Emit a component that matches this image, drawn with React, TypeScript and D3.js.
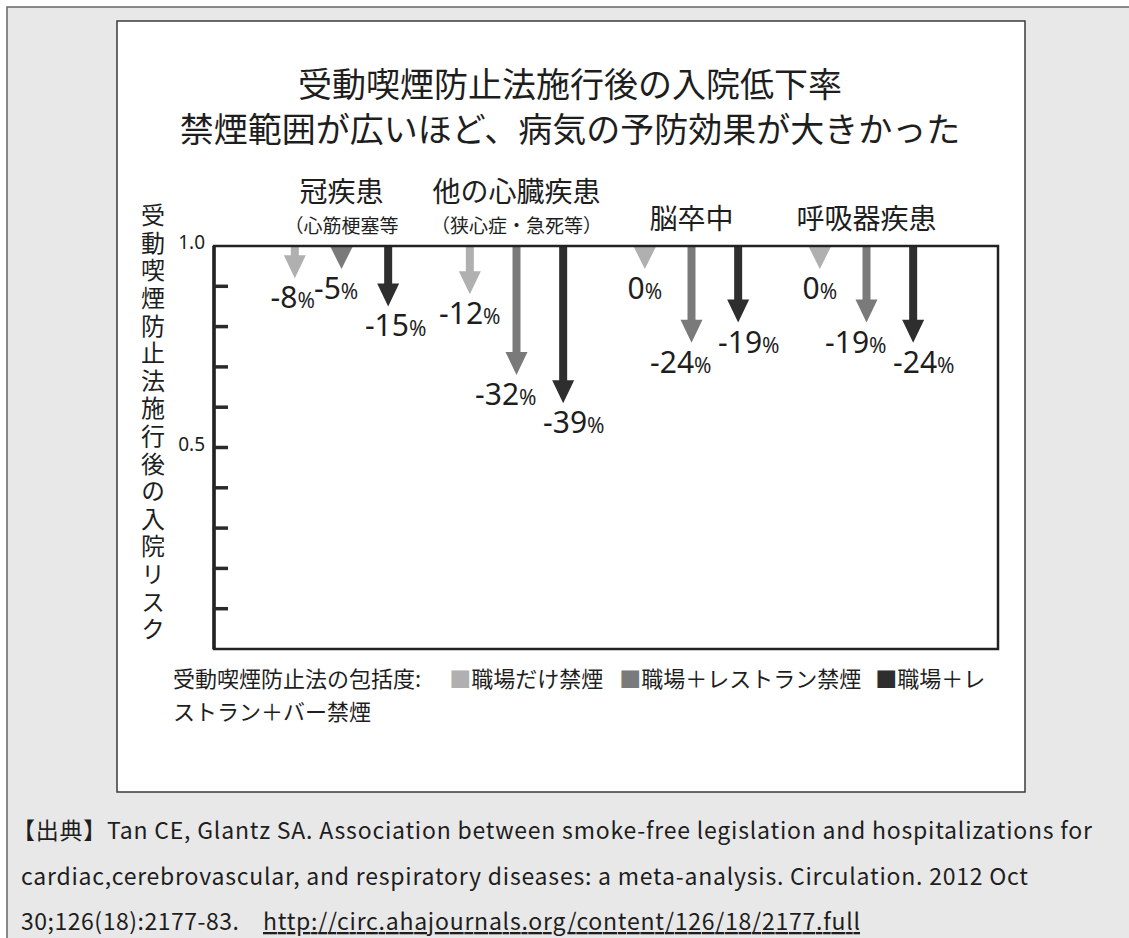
import React from 'react';
import * as d3 from 'd3';

// Disease groups and the effect of each level of smoke-free law (percent change)
const categories = ['冠疾患', '他の心臓疾患', '脳卒中', '呼吸器疾患'];
const subtitles = ['（心筋梗塞等', '（狭心症・急死等）', '', ''];
const seriesNames = ['職場だけ禁煙', '職場＋レストラン禁煙', '職場＋レストラン＋バー禁煙'];
const workplaceOnly = [-8, -12, 0, 0];
const workplaceRestaurant = [-5, -32, -24, -19];
const workplaceRestaurantBar = [-15, -39, -19, -24];
const tickValues = [0.1, 0.2, 0.3, 0.4, 0.5, 0.6, 0.7, 0.8, 0.9];
const labeledTicks = [1.0, 0.5];

const titleLines = ['受動喫煙防止法施行後の入院低下率', '禁煙範囲が広いほど、病気の予防効果が大きかった'];
const yAxisTitle = '受動喫煙防止法施行後の入院リスク';
const legendTitle = '受動喫煙防止法の包括度:';
const sourceLines = [
  '【出典】Tan CE, Glantz SA. Association between smoke-free legislation and hospitalizations for',
  'cardiac,cerebrovascular, and respiratory diseases: a meta-analysis. Circulation. 2012 Oct',
  '30;126(18):2177-83.',
];
const sourceUrl = 'http://circ.ahajournals.org/content/126/18/2177.full';

const colors = ['#b0b0b0', '#7a7a7a', '#2e2e2e'];
const JP = '"Noto Sans CJK JP", "Noto Sans", sans-serif';
const NUM = '"Noto Sans", "Open Sans", sans-serif';
const INK = '#1e1e1e';

const NUM_SIZE = 30;
const PCT_SIZE = 21;

// rough text metrics for the value labels, used to keep neighbours apart
const labelWidth = (v: number) =>
  String(Math.abs(v)).length * NUM_SIZE * 0.57 + (v < 0 ? NUM_SIZE * 0.32 : 0) + PCT_SIZE * 0.82;
const LABEL_ASC = NUM_SIZE * 1.07;
const LABEL_DESC = NUM_SIZE * 0.29;

export default function App() {
  const W = 1129;
  const H = 938;
  const plot = { left: 214, top: 246, right: 998, bottom: 649 };

  const y = d3.scaleLinear().domain([0, 1]).range([plot.bottom, plot.top]);
  const x0 = d3
    .scaleBand<string>()
    .domain(categories)
    .range([254, 954])
    .paddingInner(0.2)
    .paddingOuter(0.1);
  const x1 = d3
    .scalePoint<string>()
    .domain(seriesNames)
    .range([0, x0.bandwidth()])
    .padding(0.5);

  const series = [workplaceOnly, workplaceRestaurant, workplaceRestaurantBar];

  const headLen = 23;
  const headHalf = 11;
  const shaftHalf = 4;

  const arrowTip = (v: number) => Math.max(y(1 + v / 100), y(1) + headLen);

  const arrowPath = (cx: number, v: number) => {
    const top = y(1) + 1;
    const tip = arrowTip(v);
    const neck = Math.max(tip - headLen, top);
    const p = d3.path();
    p.moveTo(cx - shaftHalf, top);
    p.lineTo(cx + shaftHalf, top);
    p.lineTo(cx + shaftHalf, neck);
    p.lineTo(cx + headHalf, neck);
    p.lineTo(cx, tip);
    p.lineTo(cx - headHalf, neck);
    p.lineTo(cx - shaftHalf, neck);
    p.closePath();
    return p.toString();
  };

  const cx = (cat: string, s: number) => (x0(cat) ?? 0) + (x1(seriesNames[s]) ?? 0);
  const groupCenter = (cat: string) => (x0(cat) ?? 0) + x0.bandwidth() / 2;

  // value labels under each arrow tip, pushed sideways when neighbours collide
  const labels = categories.flatMap((c, ci) => {
    const group = series.map((vals, s) => {
      const v = vals[ci];
      return { key: `${c}-${s}`, v, x: cx(c, s), y: arrowTip(v) + 30, w: labelWidth(v) };
    });
    for (let i = 0; i < group.length - 1; i++) {
      const a = group[i];
      const b = group[i + 1];
      const vOverlap = Math.abs(a.y - b.y) < LABEL_ASC + LABEL_DESC;
      const need = (a.w + b.w) / 2 + 7;
      const gap = b.x - a.x;
      if (vOverlap && gap < need) {
        const shift = (need - gap) / 2;
        a.x -= shift;
        b.x += shift;
      }
    }
    return group;
  });

  return (
    <div style={{ position: 'absolute', left: 0, top: 0 }}>
      <svg width={W} height={H} viewBox={`0 0 ${W} ${H}`} style={{ display: 'block', background: '#fff' }}>
        {/* page panel */}
        <rect x={7} y={7} width={W} height={H} fill="#e8e8e8" stroke="#666" strokeWidth={1.5} />
        <rect x={117} y={21} width={908} height={771} fill="#fff" stroke="#3a3a3a" strokeWidth={1.5} />

        {/* title */}
        {titleLines.map((t, i) => (
          <text key={t} x={570} y={97 + i * 45} textAnchor="middle" fontFamily={JP} fontSize={34} fill={INK}>
            {t}
          </text>
        ))}

        {/* group headers */}
        {categories.map((c, i) => {
          const gx = groupCenter(c);
          const hasSub = subtitles[i] !== '';
          return (
            <g key={c}>
              <text x={gx} y={202} dy={hasSub ? 0 : 27} textAnchor="middle" fontFamily={JP} fontSize={28} fill={INK}>
                {c}
              </text>
              {hasSub && (
                <text x={gx} y={233} textAnchor="middle" fontFamily={JP} fontSize={19} fill={INK}>
                  {subtitles[i]}
                </text>
              )}
            </g>
          );
        })}

        {/* y axis title (vertical) */}
        <text
          x={153}
          y={203}
          fontFamily={JP}
          fontSize={24}
          fill={INK}
          style={{ writingMode: 'vertical-rl', letterSpacing: '3.6px' }}
        >
          {yAxisTitle}
        </text>

        {/* arrows */}
        {categories.map((c, ci) =>
          series.map((vals, s) => (
            <path key={`${c}-${s}`} d={arrowPath(cx(c, s), vals[ci])} fill={colors[s]} />
          ))
        )}

        {/* plot frame */}
        <rect
          x={plot.left}
          y={plot.top}
          width={plot.right - plot.left}
          height={plot.bottom - plot.top}
          fill="none"
          stroke="#222"
          strokeWidth={2.5}
        />
        <line x1={plot.left} x2={plot.left} y1={plot.top} y2={plot.bottom} stroke="#222" strokeWidth={3.5} />

        {/* inner ticks */}
        {tickValues.map((t) => (
          <line key={t} x1={plot.left} x2={plot.left + 14} y1={y(t)} y2={y(t)} stroke="#2a2a2a" strokeWidth={3.5} />
        ))}
        {labeledTicks.map((t) => (
          <text key={t} x={205} y={y(t) + 3} textAnchor="end" fontFamily={NUM} fontSize={19} fill={INK}>
            {d3.format('.1f')(t)}
          </text>
        ))}

        {/* value labels */}
        {labels.map((l) => (
          <text key={`lbl-${l.key}`} x={l.x} y={l.y} textAnchor="middle" fontFamily={NUM} fill={INK}>
            <tspan fontSize={NUM_SIZE}>{`${l.v}`}</tspan>
            <tspan fontSize={PCT_SIZE}>%</tspan>
          </text>
        ))}

        {/* legend */}
        <text x={173} y={687} fontFamily={JP} fontSize={22} fill={INK}>
          <tspan>{legendTitle}</tspan>
          <tspan dx={28} fill={colors[0]}>■</tspan>
          <tspan>{seriesNames[0]}</tspan>
          <tspan dx={16} fill={colors[1]}>■</tspan>
          <tspan>{seriesNames[1]}</tspan>
          <tspan dx={14} fill={colors[2]}>■</tspan>
          <tspan>{seriesNames[2].slice(0, 4)}</tspan>
        </text>
        <text x={173} y={720} fontFamily={JP} fontSize={22} fill={INK}>
          {seriesNames[2].slice(4)}
        </text>

        {/* source */}
        <text x={12} y={839} fontFamily={JP} fontSize={23} fill={INK} textLength={1080} lengthAdjust="spacing">
          {sourceLines[0]}
        </text>
        <text x={21} y={885} fontFamily={JP} fontSize={23} fill={INK} textLength={1007} lengthAdjust="spacing">
          {sourceLines[1]}
        </text>
        <text x={21} y={930} fontFamily={JP} fontSize={23} fill={INK} textLength={218} lengthAdjust="spacing">
          {sourceLines[2]}
        </text>
        <text
          x={263}
          y={930}
          fontFamily={JP}
          fontSize={23}
          fill={INK}
          textLength={597}
          lengthAdjust="spacing"
          textDecoration="underline"
        >
          {sourceUrl}
        </text>
      </svg>
    </div>
  );
}
